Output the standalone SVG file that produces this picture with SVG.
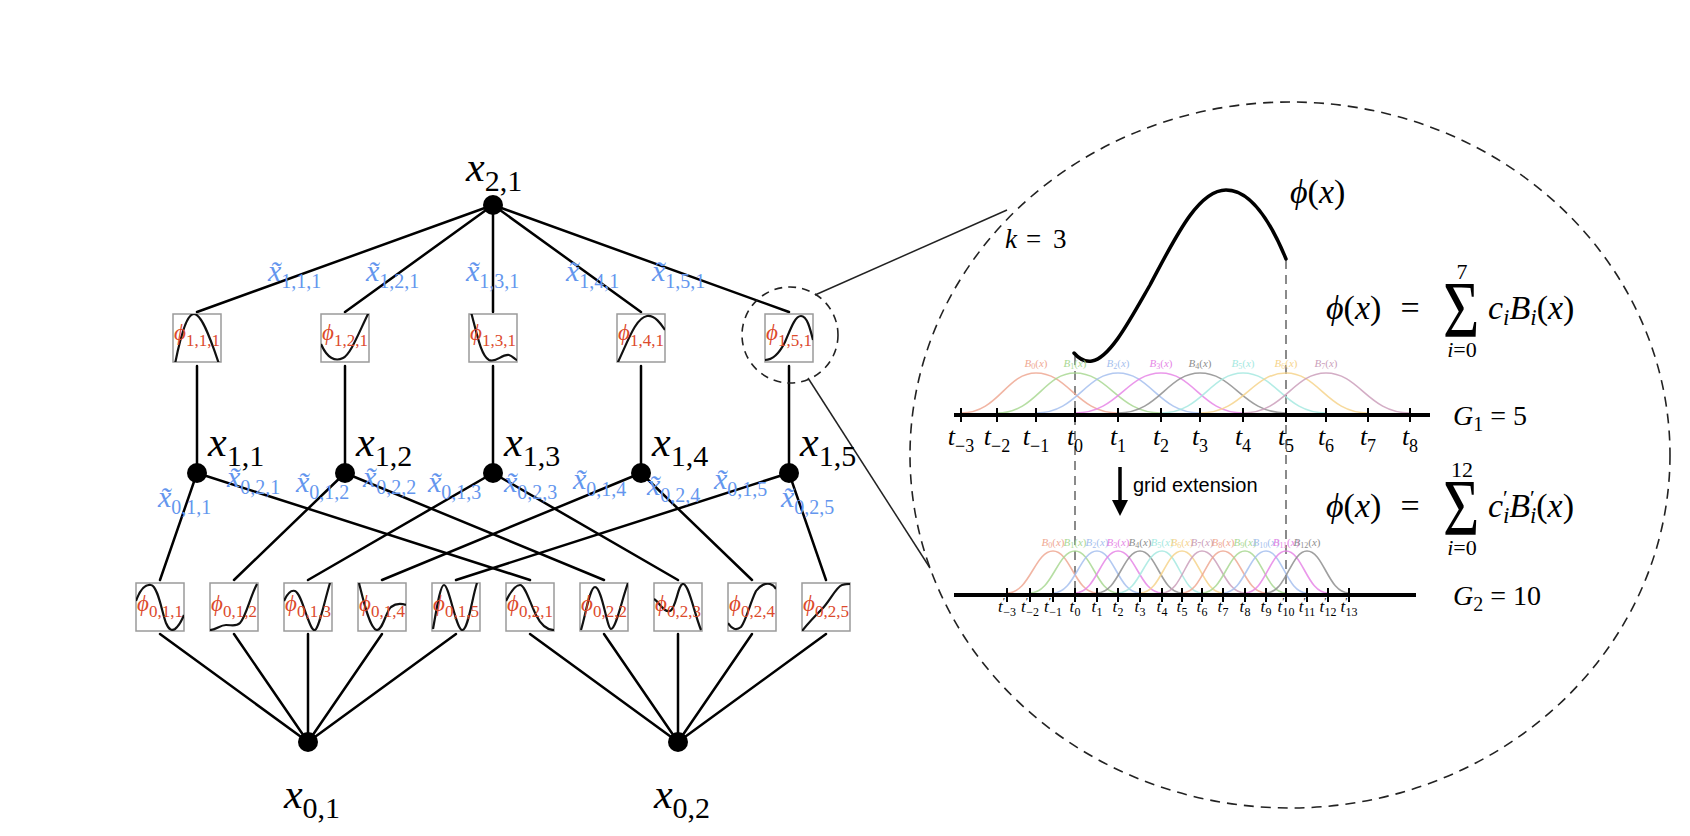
<svg xmlns="http://www.w3.org/2000/svg" width="1690" height="836" viewBox="0 0 1690 836">
<style>
.s{font-family:"Liberation Serif","DejaVu Serif",serif}
.sans{font-family:"Liberation Sans",Arial,sans-serif}
.it{font-style:italic}
.e{stroke:#000;stroke-width:2.5;fill:none;stroke-linecap:round}
.z{stroke:#222;stroke-width:1.5;fill:none}
.dc{stroke:#222;stroke-width:1.6;fill:none;stroke-dasharray:10 7}
.node{fill:#000}
.box{fill:#fff;stroke:#9a9a9a;stroke-width:1.5}
.fn{fill:none;stroke:#111;stroke-width:2.2}
.nl{font-size:42px;fill:#000}
.bl{font-size:30px;fill:#6496ee}
.pl{font-size:23px;fill:#dc4a2c}
.ax{stroke:#000;stroke-width:4}
.tk{stroke:#000;stroke-width:2}
.vd{stroke:#8a8a8a;stroke-width:2;stroke-dasharray:9 6}
.bt{font-size:11px;text-anchor:middle}
.c0{stroke:#efa893;fill:#efa893}.c1{stroke:#a9d893;fill:#a9d893}.c2{stroke:#a6bfee;fill:#a6bfee}.c3{stroke:#e686e6;fill:#e686e6}
.c4{stroke:#8e8e8e;fill:#8e8e8e}.c5{stroke:#a6e9e1;fill:#a6e9e1}.c6{stroke:#f6d38c;fill:#f6d38c}.c7{stroke:#cb9fbb;fill:#cb9fbb}
path.bs{fill:none;stroke-width:1.6;opacity:0.85}
text.bt{stroke:none}
</style>
<defs>
<clipPath id="bc"><rect x="0" y="0" width="48" height="48"/></clipPath>
</defs>

<g id="connectors">
<line class="e" x1="493" y1="205" x2="197" y2="312"/>
<line class="e" x1="493" y1="205" x2="345" y2="312"/>
<line class="e" x1="493" y1="205" x2="493" y2="312"/>
<line class="e" x1="493" y1="205" x2="641" y2="312"/>
<line class="e" x1="493" y1="205" x2="789" y2="312"/>
<line class="e" x1="197" y1="366" x2="197" y2="473"/>
<line class="e" x1="345" y1="366" x2="345" y2="473"/>
<line class="e" x1="493" y1="366" x2="493" y2="473"/>
<line class="e" x1="641" y1="366" x2="641" y2="473"/>
<line class="e" x1="789" y1="366" x2="789" y2="473"/>
<line class="e" x1="197" y1="473" x2="160" y2="580"/>
<line class="e" x1="197" y1="473" x2="530" y2="580"/>
<line class="e" x1="345" y1="473" x2="234" y2="580"/>
<line class="e" x1="345" y1="473" x2="604" y2="580"/>
<line class="e" x1="493" y1="473" x2="308" y2="580"/>
<line class="e" x1="493" y1="473" x2="678" y2="580"/>
<line class="e" x1="641" y1="473" x2="382" y2="580"/>
<line class="e" x1="641" y1="473" x2="752" y2="580"/>
<line class="e" x1="789" y1="473" x2="456" y2="580"/>
<line class="e" x1="789" y1="473" x2="826" y2="580"/>
<line class="e" x1="160" y1="634" x2="308" y2="742"/>
<line class="e" x1="234" y1="634" x2="308" y2="742"/>
<line class="e" x1="308" y1="634" x2="308" y2="742"/>
<line class="e" x1="382" y1="634" x2="308" y2="742"/>
<line class="e" x1="456" y1="634" x2="308" y2="742"/>
<line class="e" x1="530" y1="634" x2="678" y2="742"/>
<line class="e" x1="604" y1="634" x2="678" y2="742"/>
<line class="e" x1="678" y1="634" x2="678" y2="742"/>
<line class="e" x1="752" y1="634" x2="678" y2="742"/>
<line class="e" x1="826" y1="634" x2="678" y2="742"/>
<line class="z" x1="815" y1="295" x2="1007" y2="210"/>
<line class="z" x1="808" y1="378" x2="930" y2="568"/>
</g>

<g id="edge-labels" class="s">
<text class="bl" x="268" y="281"><tspan class="it">x̃</tspan><tspan font-size="20" dy="7">1,1,1</tspan></text>
<text class="bl" x="366" y="281"><tspan class="it">x̃</tspan><tspan font-size="20" dy="7">1,2,1</tspan></text>
<text class="bl" x="466" y="281"><tspan class="it">x̃</tspan><tspan font-size="20" dy="7">1,3,1</tspan></text>
<text class="bl" x="566" y="281"><tspan class="it">x̃</tspan><tspan font-size="20" dy="7">1,4,1</tspan></text>
<text class="bl" x="652" y="281"><tspan class="it">x̃</tspan><tspan font-size="20" dy="7">1,5,1</tspan></text>
<text class="bl" x="158" y="507"><tspan class="it">x̃</tspan><tspan font-size="20" dy="7">0,1,1</tspan></text>
<text class="bl" x="227" y="487"><tspan class="it">x̃</tspan><tspan font-size="20" dy="7">0,2,1</tspan></text>
<text class="bl" x="296" y="492"><tspan class="it">x̃</tspan><tspan font-size="20" dy="7">0,1,2</tspan></text>
<text class="bl" x="363" y="487"><tspan class="it">x̃</tspan><tspan font-size="20" dy="7">0,2,2</tspan></text>
<text class="bl" x="428" y="492"><tspan class="it">x̃</tspan><tspan font-size="20" dy="7">0,1,3</tspan></text>
<text class="bl" x="504" y="492"><tspan class="it">x̃</tspan><tspan font-size="20" dy="7">0,2,3</tspan></text>
<text class="bl" x="573" y="489"><tspan class="it">x̃</tspan><tspan font-size="20" dy="7">0,1,4</tspan></text>
<text class="bl" x="647" y="495"><tspan class="it">x̃</tspan><tspan font-size="20" dy="7">0,2,4</tspan></text>
<text class="bl" x="714" y="489"><tspan class="it">x̃</tspan><tspan font-size="20" dy="7">0,1,5</tspan></text>
<text class="bl" x="781" y="507"><tspan class="it">x̃</tspan><tspan font-size="20" dy="7">0,2,5</tspan></text>
</g>

<g id="x21" class="s">
<circle class="node" cx="493" cy="205" r="10"/>
<text class="nl" x="466" y="181"><tspan class="it">x</tspan><tspan font-size="30" dy="10">2,1</tspan></text>
</g>
<g id="x11" class="s"><circle class="node" cx="197" cy="473" r="10"/><text class="nl" x="208" y="456"><tspan class="it">x</tspan><tspan font-size="30" dy="10">1,1</tspan></text></g>
<g id="x12" class="s"><circle class="node" cx="345" cy="473" r="10"/><text class="nl" x="356" y="456"><tspan class="it">x</tspan><tspan font-size="30" dy="10">1,2</tspan></text></g>
<g id="x13" class="s"><circle class="node" cx="493" cy="473" r="10"/><text class="nl" x="504" y="456"><tspan class="it">x</tspan><tspan font-size="30" dy="10">1,3</tspan></text></g>
<g id="x14" class="s"><circle class="node" cx="641" cy="473" r="10"/><text class="nl" x="652" y="456"><tspan class="it">x</tspan><tspan font-size="30" dy="10">1,4</tspan></text></g>
<g id="x15" class="s"><circle class="node" cx="789" cy="473" r="10"/><text class="nl" x="800" y="456"><tspan class="it">x</tspan><tspan font-size="30" dy="10">1,5</tspan></text></g>
<g id="x01" class="s"><circle class="node" cx="308" cy="742" r="10"/><text class="nl" x="312" y="808" text-anchor="middle"><tspan class="it">x</tspan><tspan font-size="30" dy="10">0,1</tspan></text></g>
<g id="x02" class="s"><circle class="node" cx="678" cy="742" r="10"/><text class="nl" x="682" y="808" text-anchor="middle"><tspan class="it">x</tspan><tspan font-size="30" dy="10">0,2</tspan></text></g>

<g id="phi111" class="s" transform="translate(173,314)"><rect class="box" width="48" height="48"/><path class="fn" clip-path="url(#bc)" d="M2,50 C10,10 16,0 21,0 C28,0 36,20 46,50"/><text class="pl" x="1" y="26"><tspan class="it">ϕ</tspan><tspan font-size="17" dy="6">1,1,1</tspan></text></g>
<g id="phi121" class="s" transform="translate(321,314)"><rect class="box" width="48" height="48"/><path class="fn" clip-path="url(#bc)" d="M0,30 C6,44 14,48 22,44 C30,40 38,18 48,-2"/><text class="pl" x="1" y="26"><tspan class="it">ϕ</tspan><tspan font-size="17" dy="6">1,2,1</tspan></text></g>
<g id="phi131" class="s" transform="translate(469,314)"><rect class="box" width="48" height="48"/><path class="fn" clip-path="url(#bc)" d="M2,-2 C8,20 12,42 20,46 C28,49 32,40 40,41 C44,42 46,46 48,46"/><text class="pl" x="1" y="26"><tspan class="it">ϕ</tspan><tspan font-size="17" dy="6">1,3,1</tspan></text></g>
<g id="phi141" class="s" transform="translate(617,314)"><rect class="box" width="48" height="48"/><path class="fn" clip-path="url(#bc)" d="M0,50 C10,30 18,4 30,2 C38,1 44,10 48,16"/><text class="pl" x="1" y="26"><tspan class="it">ϕ</tspan><tspan font-size="17" dy="6">1,4,1</tspan></text></g>
<g id="phi151" class="s" transform="translate(765,314)"><rect class="box" width="48" height="48"/><path class="fn" clip-path="url(#bc)" d="M0,46 C8,46 14,40 20,28 C26,14 30,2 36,2 C42,2 45,14 48,26"/><text class="pl" x="1" y="26"><tspan class="it">ϕ</tspan><tspan font-size="17" dy="6">1,5,1</tspan></text></g>

<g id="phi011" class="s" transform="translate(136,583)"><rect class="box" width="48" height="48"/><path class="fn" clip-path="url(#bc)" d="M0,18 C5,4 10,1 15,2 C22,3 26,30 30,40 C33,47 36,48 39,46 C43,43 46,37 48,32"/><text class="pl" x="1" y="28"><tspan class="it">ϕ</tspan><tspan font-size="17" dy="6">0,1,1</tspan></text></g>
<g id="phi012" class="s" transform="translate(210,583)"><rect class="box" width="48" height="48"/><path class="fn" clip-path="url(#bc)" d="M0,47 C6,47 10,42 16,42 C22,42 26,44 30,40 C36,34 40,14 47,1"/><text class="pl" x="1" y="28"><tspan class="it">ϕ</tspan><tspan font-size="17" dy="6">0,1,2</tspan></text></g>
<g id="phi013" class="s" transform="translate(284,583)"><rect class="box" width="48" height="48"/><path class="fn" clip-path="url(#bc)" d="M0,18 C4,9 8,7 11,8 C16,10 20,26 24,36 C27,44 29,48 31,47 C35,45 40,20 46,0"/><text class="pl" x="1" y="28"><tspan class="it">ϕ</tspan><tspan font-size="17" dy="6">0,1,3</tspan></text></g>
<g id="phi014" class="s" transform="translate(358,583)"><rect class="box" width="48" height="48"/><path class="fn" clip-path="url(#bc)" d="M1,0 C5,16 12,47 19,47 C25,47 28,28 33,24 C37,21 42,20 48,22"/><text class="pl" x="1" y="28"><tspan class="it">ϕ</tspan><tspan font-size="17" dy="6">0,1,4</tspan></text></g>
<g id="phi015" class="s" transform="translate(432,583)"><rect class="box" width="48" height="48"/><path class="fn" clip-path="url(#bc)" d="M1,46 C4,30 8,2 12,2 C17,2 24,46 30,47 C36,48 40,15 45,0"/><text class="pl" x="1" y="28"><tspan class="it">ϕ</tspan><tspan font-size="17" dy="6">0,1,5</tspan></text></g>
<g id="phi021" class="s" transform="translate(506,583)"><rect class="box" width="48" height="48"/><path class="fn" clip-path="url(#bc)" d="M0,18 C5,8 10,2 14,2 C19,2 24,20 30,32 C35,42 40,47 48,47"/><text class="pl" x="1" y="28"><tspan class="it">ϕ</tspan><tspan font-size="17" dy="6">0,2,1</tspan></text></g>
<g id="phi022" class="s" transform="translate(580,583)"><rect class="box" width="48" height="48"/><path class="fn" clip-path="url(#bc)" d="M1,47 C6,30 10,4 15,4 C22,4 27,46 31,46 C36,46 42,16 48,0"/><text class="pl" x="1" y="28"><tspan class="it">ϕ</tspan><tspan font-size="17" dy="6">0,2,2</tspan></text></g>
<g id="phi023" class="s" transform="translate(654,583)"><rect class="box" width="48" height="48"/><path class="fn" clip-path="url(#bc)" d="M0,16 C6,20 10,30 16,28 C22,26 24,1 29,1 C35,1 40,30 47,47"/><text class="pl" x="1" y="28"><tspan class="it">ϕ</tspan><tspan font-size="17" dy="6">0,2,3</tspan></text></g>
<g id="phi024" class="s" transform="translate(728,583)"><rect class="box" width="48" height="48"/><path class="fn" clip-path="url(#bc)" d="M0,40 C4,46 8,48 13,44 C18,38 22,20 28,8 C32,2 38,0 42,1 C45,2 47,4 48,6"/><text class="pl" x="1" y="28"><tspan class="it">ϕ</tspan><tspan font-size="17" dy="6">0,2,4</tspan></text></g>
<g id="phi025" class="s" transform="translate(802,583)"><rect class="box" width="48" height="48"/><path class="fn" clip-path="url(#bc)" d="M0,48 C8,38 14,32 20,26 C28,18 34,4 40,2 C44,1 46,1 48,1"/><text class="pl" x="1" y="28"><tspan class="it">ϕ</tspan><tspan font-size="17" dy="6">0,2,5</tspan></text></g>

<g id="zoom-marks">
<circle class="dc" cx="790" cy="335" r="48" style="stroke-dasharray:8 6"/>
<ellipse class="dc" cx="1290" cy="455" rx="380" ry="353"/>
</g>

<g id="spline-panel" class="s">
<line class="vd" x1="1075" y1="356" x2="1075" y2="598"/>
<line class="vd" x1="1286" y1="260" x2="1286" y2="598"/>
<path d="M1074,353 C1080,360 1086,362 1092,361 C1110,358 1130,320 1150,285 C1175,238 1198,190 1226,190 C1250,190 1270,220 1286,259" fill="none" stroke="#000" stroke-width="3.5" stroke-linecap="round"/>
<text x="1290" y="203" font-size="34"><tspan class="it">ϕ</tspan>(<tspan class="it">x</tspan>)</text>
<text x="1005" y="248" font-size="27"><tspan class="it">k</tspan><tspan x="1026">=</tspan><tspan x="1053">3</tspan></text>

<g id="bsplines-G1">
<path class="bs c0" d="M961,413 C998.5,413 1006,373 1036,373 C1068.8,373 1077,413 1118,413"/>
<path class="bs c1" d="M997,413 C1036,413 1043.8,373 1075,373 C1109.4,373 1118,413 1161,413"/>
<path class="bs c2" d="M1036,413 C1077,413 1085.2,373 1118,373 C1150.8,373 1159,413 1200,413"/>
<path class="bs c3" d="M1075,413 C1118,413 1126.6,373 1161,373 C1193.8,373 1202,413 1243,413"/>
<path class="bs c4" d="M1118,413 C1159,413 1167.2,373 1200,373 C1234.4,373 1243,413 1286,413"/>
<path class="bs c5" d="M1161,413 C1202,413 1210.2,373 1243,373 C1276.2,373 1284.5,413 1326,413"/>
<path class="bs c6" d="M1200,413 C1243,413 1251.6,373 1286,373 C1318.8,373 1327,413 1368,413"/>
<path class="bs c7" d="M1243,413 C1284.5,413 1292.8,373 1326,373 C1359.6,373 1368,413 1410,413"/>
<text class="bt c0" x="1036" y="367"><tspan class="it">B</tspan><tspan font-size="8" dy="2">0</tspan><tspan dy="-2">(</tspan><tspan class="it">x</tspan>)</text>
<text class="bt c1" x="1075" y="367"><tspan class="it">B</tspan><tspan font-size="8" dy="2">1</tspan><tspan dy="-2">(</tspan><tspan class="it">x</tspan>)</text>
<text class="bt c2" x="1118" y="367"><tspan class="it">B</tspan><tspan font-size="8" dy="2">2</tspan><tspan dy="-2">(</tspan><tspan class="it">x</tspan>)</text>
<text class="bt c3" x="1161" y="367"><tspan class="it">B</tspan><tspan font-size="8" dy="2">3</tspan><tspan dy="-2">(</tspan><tspan class="it">x</tspan>)</text>
<text class="bt c4" x="1200" y="367"><tspan class="it">B</tspan><tspan font-size="8" dy="2">4</tspan><tspan dy="-2">(</tspan><tspan class="it">x</tspan>)</text>
<text class="bt c5" x="1243" y="367"><tspan class="it">B</tspan><tspan font-size="8" dy="2">5</tspan><tspan dy="-2">(</tspan><tspan class="it">x</tspan>)</text>
<text class="bt c6" x="1286" y="367"><tspan class="it">B</tspan><tspan font-size="8" dy="2">6</tspan><tspan dy="-2">(</tspan><tspan class="it">x</tspan>)</text>
<text class="bt c7" x="1326" y="367"><tspan class="it">B</tspan><tspan font-size="8" dy="2">7</tspan><tspan dy="-2">(</tspan><tspan class="it">x</tspan>)</text>
</g>
<line class="ax" x1="954" y1="415" x2="1430" y2="415"/>
<g id="ticks-G1">
<line class="tk" x1="961" y1="408" x2="961" y2="422"/><line class="tk" x1="997" y1="408" x2="997" y2="422"/><line class="tk" x1="1036" y1="408" x2="1036" y2="422"/><line class="tk" x1="1075" y1="408" x2="1075" y2="422"/><line class="tk" x1="1118" y1="408" x2="1118" y2="422"/><line class="tk" x1="1161" y1="408" x2="1161" y2="422"/><line class="tk" x1="1200" y1="408" x2="1200" y2="422"/><line class="tk" x1="1243" y1="408" x2="1243" y2="422"/><line class="tk" x1="1286" y1="408" x2="1286" y2="422"/><line class="tk" x1="1326" y1="408" x2="1326" y2="422"/><line class="tk" x1="1368" y1="408" x2="1368" y2="422"/><line class="tk" x1="1410" y1="408" x2="1410" y2="422"/>
</g>
<g id="tlabels-G1" font-size="26" text-anchor="middle">
<text x="961" y="445"><tspan class="it">t</tspan><tspan font-size="18" dy="7">−3</tspan></text>
<text x="997" y="445"><tspan class="it">t</tspan><tspan font-size="18" dy="7">−2</tspan></text>
<text x="1036" y="445"><tspan class="it">t</tspan><tspan font-size="18" dy="7">−1</tspan></text>
<text x="1075" y="445"><tspan class="it">t</tspan><tspan font-size="18" dy="7">0</tspan></text>
<text x="1118" y="445"><tspan class="it">t</tspan><tspan font-size="18" dy="7">1</tspan></text>
<text x="1161" y="445"><tspan class="it">t</tspan><tspan font-size="18" dy="7">2</tspan></text>
<text x="1200" y="445"><tspan class="it">t</tspan><tspan font-size="18" dy="7">3</tspan></text>
<text x="1243" y="445"><tspan class="it">t</tspan><tspan font-size="18" dy="7">4</tspan></text>
<text x="1286" y="445"><tspan class="it">t</tspan><tspan font-size="18" dy="7">5</tspan></text>
<text x="1326" y="445"><tspan class="it">t</tspan><tspan font-size="18" dy="7">6</tspan></text>
<text x="1368" y="445"><tspan class="it">t</tspan><tspan font-size="18" dy="7">7</tspan></text>
<text x="1410" y="445"><tspan class="it">t</tspan><tspan font-size="18" dy="7">8</tspan></text>
</g>
<text x="1453" y="425" font-size="28"><tspan class="it">G</tspan><tspan font-size="20" dy="6">1</tspan><tspan dy="-6"> = 5</tspan></text>

<g id="formula1">
<text x="1326" y="319" font-size="34"><tspan class="it">ϕ</tspan>(<tspan class="it">x</tspan>)</text>
<text x="1410" y="319" font-size="34" text-anchor="middle">=</text>
<text transform="translate(1443,337) scale(0.78,1)" font-size="80">Σ</text>
<text x="1462" y="279" font-size="22" text-anchor="middle">7</text>
<text x="1462" y="357" font-size="22" text-anchor="middle"><tspan class="it">i</tspan>=0</text>
<text x="1488" y="319" font-size="34"><tspan class="it">c</tspan><tspan class="it" font-size="23" dy="6">i</tspan><tspan class="it" dy="-6">B</tspan><tspan class="it" font-size="23" dy="6">i</tspan><tspan dy="-6">(</tspan><tspan class="it">x</tspan>)</text>
</g>

<g id="grid-extension">
<line x1="1120" y1="467" x2="1120" y2="503" stroke="#000" stroke-width="3.5"/>
<polygon points="1112,500 1128,500 1120,516" fill="#000"/>
<text class="sans" x="1133" y="492" font-size="20">grid extension</text>
</g>

<g id="formula2">
<text x="1326" y="517" font-size="34"><tspan class="it">ϕ</tspan>(<tspan class="it">x</tspan>)</text>
<text x="1410" y="517" font-size="34" text-anchor="middle">=</text>
<text transform="translate(1443,535) scale(0.78,1)" font-size="80">Σ</text>
<text x="1462" y="477" font-size="22" text-anchor="middle">12</text>
<text x="1462" y="555" font-size="22" text-anchor="middle"><tspan class="it">i</tspan>=0</text>
<text x="1488" y="517" font-size="34"><tspan class="it">c</tspan><tspan font-size="22" dy="-12">′</tspan><tspan class="it" font-size="23" dx="-5" dy="18">i</tspan><tspan class="it" dy="-6">B</tspan><tspan font-size="22" dy="-12">′</tspan><tspan class="it" font-size="23" dx="-5" dy="18">i</tspan><tspan dy="-6">(</tspan><tspan class="it">x</tspan>)</text>
</g>

<g id="bsplines-G2">
<path class="bs c0" d="M1007,593 C1030,593 1034.6,551 1053,551 C1070.6,551 1075,593 1097,593"/>
<path class="bs c1" d="M1030,593 C1052.5,593 1057,551 1075,551 C1092.2,551 1096.5,593 1118,593"/>
<path class="bs c2" d="M1053,593 C1075,593 1079.4,551 1097,551 C1114.2,551 1118.5,593 1140,593"/>
<path class="bs c3" d="M1075,593 C1096.5,593 1100.8,551 1118,551 C1135.6,551 1140,593 1162,593"/>
<path class="bs c4" d="M1097,593 C1118.5,593 1122.8,551 1140,551 C1156.8,551 1161,593 1182,593"/>
<path class="bs c5" d="M1118,593 C1140,593 1144.4,551 1162,551 C1178,551 1182,593 1202,593"/>
<path class="bs c6" d="M1140,593 C1161,593 1165.2,551 1182,551 C1198.4,551 1202.5,593 1223,593"/>
<path class="bs c7" d="M1162,593 C1182,593 1186,551 1202,551 C1219.2,551 1223.5,593 1245,593"/>
<path class="bs c0" d="M1182,593 C1202.5,593 1206.6,551 1223,551 C1240.2,551 1244.5,593 1266,593"/>
<path class="bs c1" d="M1202,593 C1223.5,593 1227.8,551 1245,551 C1261.4,551 1265.5,593 1286,593"/>
<path class="bs c2" d="M1223,593 C1244.5,593 1248.8,551 1266,551 C1282.4,551 1286.5,593 1307,593"/>
<path class="bs c3" d="M1245,593 C1265.5,593 1269.6,551 1286,551 C1302.8,551 1307,593 1328,593"/>
<path class="bs c4" d="M1266,593 C1286.5,593 1290.6,551 1307,551 C1323.8,551 1328,593 1349,593"/>
<text class="bt c0" x="1053" y="546"><tspan class="it">B</tspan><tspan font-size="8" dy="2">0</tspan><tspan dy="-2">(</tspan><tspan class="it">x</tspan>)</text>
<text class="bt c1" x="1075" y="546"><tspan class="it">B</tspan><tspan font-size="8" dy="2">1</tspan><tspan dy="-2">(</tspan><tspan class="it">x</tspan>)</text>
<text class="bt c2" x="1097" y="546"><tspan class="it">B</tspan><tspan font-size="8" dy="2">2</tspan><tspan dy="-2">(</tspan><tspan class="it">x</tspan>)</text>
<text class="bt c3" x="1118" y="546"><tspan class="it">B</tspan><tspan font-size="8" dy="2">3</tspan><tspan dy="-2">(</tspan><tspan class="it">x</tspan>)</text>
<text class="bt c4" x="1140" y="546"><tspan class="it">B</tspan><tspan font-size="8" dy="2">4</tspan><tspan dy="-2">(</tspan><tspan class="it">x</tspan>)</text>
<text class="bt c5" x="1162" y="546"><tspan class="it">B</tspan><tspan font-size="8" dy="2">5</tspan><tspan dy="-2">(</tspan><tspan class="it">x</tspan>)</text>
<text class="bt c6" x="1182" y="546"><tspan class="it">B</tspan><tspan font-size="8" dy="2">6</tspan><tspan dy="-2">(</tspan><tspan class="it">x</tspan>)</text>
<text class="bt c7" x="1202" y="546"><tspan class="it">B</tspan><tspan font-size="8" dy="2">7</tspan><tspan dy="-2">(</tspan><tspan class="it">x</tspan>)</text>
<text class="bt c0" x="1223" y="546"><tspan class="it">B</tspan><tspan font-size="8" dy="2">8</tspan><tspan dy="-2">(</tspan><tspan class="it">x</tspan>)</text>
<text class="bt c1" x="1245" y="546"><tspan class="it">B</tspan><tspan font-size="8" dy="2">9</tspan><tspan dy="-2">(</tspan><tspan class="it">x</tspan>)</text>
<text class="bt c2" x="1266" y="546"><tspan class="it">B</tspan><tspan font-size="8" dy="2">10</tspan><tspan dy="-2">(</tspan><tspan class="it">x</tspan>)</text>
<text class="bt c3" x="1286" y="546"><tspan class="it">B</tspan><tspan font-size="8" dy="2">11</tspan><tspan dy="-2">(</tspan><tspan class="it">x</tspan>)</text>
<text class="bt c4" x="1307" y="546"><tspan class="it">B</tspan><tspan font-size="8" dy="2">12</tspan><tspan dy="-2">(</tspan><tspan class="it">x</tspan>)</text>
</g>
<line class="ax" x1="954" y1="595" x2="1416" y2="595"/>
<g id="ticks-G2">
<line class="tk" x1="1007" y1="588" x2="1007" y2="602"/><line class="tk" x1="1030" y1="588" x2="1030" y2="602"/><line class="tk" x1="1053" y1="588" x2="1053" y2="602"/><line class="tk" x1="1075" y1="588" x2="1075" y2="602"/><line class="tk" x1="1097" y1="588" x2="1097" y2="602"/><line class="tk" x1="1118" y1="588" x2="1118" y2="602"/><line class="tk" x1="1140" y1="588" x2="1140" y2="602"/><line class="tk" x1="1162" y1="588" x2="1162" y2="602"/><line class="tk" x1="1182" y1="588" x2="1182" y2="602"/><line class="tk" x1="1202" y1="588" x2="1202" y2="602"/><line class="tk" x1="1223" y1="588" x2="1223" y2="602"/><line class="tk" x1="1245" y1="588" x2="1245" y2="602"/><line class="tk" x1="1266" y1="588" x2="1266" y2="602"/><line class="tk" x1="1286" y1="588" x2="1286" y2="602"/><line class="tk" x1="1307" y1="588" x2="1307" y2="602"/><line class="tk" x1="1328" y1="588" x2="1328" y2="602"/><line class="tk" x1="1349" y1="588" x2="1349" y2="602"/>
</g>
<g id="tlabels-G2" font-size="17" text-anchor="middle">
<text x="1007" y="612"><tspan class="it">t</tspan><tspan font-size="11" dy="-7">′</tspan><tspan font-size="12" dx="-2" dy="11">−3</tspan></text>
<text x="1030" y="612"><tspan class="it">t</tspan><tspan font-size="11" dy="-7">′</tspan><tspan font-size="12" dx="-2" dy="11">−2</tspan></text>
<text x="1053" y="612"><tspan class="it">t</tspan><tspan font-size="11" dy="-7">′</tspan><tspan font-size="12" dx="-2" dy="11">−1</tspan></text>
<text x="1075" y="612"><tspan class="it">t</tspan><tspan font-size="11" dy="-7">′</tspan><tspan font-size="12" dx="-2" dy="11">0</tspan></text>
<text x="1097" y="612"><tspan class="it">t</tspan><tspan font-size="11" dy="-7">′</tspan><tspan font-size="12" dx="-2" dy="11">1</tspan></text>
<text x="1118" y="612"><tspan class="it">t</tspan><tspan font-size="11" dy="-7">′</tspan><tspan font-size="12" dx="-2" dy="11">2</tspan></text>
<text x="1140" y="612"><tspan class="it">t</tspan><tspan font-size="11" dy="-7">′</tspan><tspan font-size="12" dx="-2" dy="11">3</tspan></text>
<text x="1162" y="612"><tspan class="it">t</tspan><tspan font-size="11" dy="-7">′</tspan><tspan font-size="12" dx="-2" dy="11">4</tspan></text>
<text x="1182" y="612"><tspan class="it">t</tspan><tspan font-size="11" dy="-7">′</tspan><tspan font-size="12" dx="-2" dy="11">5</tspan></text>
<text x="1202" y="612"><tspan class="it">t</tspan><tspan font-size="11" dy="-7">′</tspan><tspan font-size="12" dx="-2" dy="11">6</tspan></text>
<text x="1223" y="612"><tspan class="it">t</tspan><tspan font-size="11" dy="-7">′</tspan><tspan font-size="12" dx="-2" dy="11">7</tspan></text>
<text x="1245" y="612"><tspan class="it">t</tspan><tspan font-size="11" dy="-7">′</tspan><tspan font-size="12" dx="-2" dy="11">8</tspan></text>
<text x="1266" y="612"><tspan class="it">t</tspan><tspan font-size="11" dy="-7">′</tspan><tspan font-size="12" dx="-2" dy="11">9</tspan></text>
<text x="1286" y="612"><tspan class="it">t</tspan><tspan font-size="11" dy="-7">′</tspan><tspan font-size="12" dx="-2" dy="11">10</tspan></text>
<text x="1307" y="612"><tspan class="it">t</tspan><tspan font-size="11" dy="-7">′</tspan><tspan font-size="12" dx="-2" dy="11">11</tspan></text>
<text x="1328" y="612"><tspan class="it">t</tspan><tspan font-size="11" dy="-7">′</tspan><tspan font-size="12" dx="-2" dy="11">12</tspan></text>
<text x="1349" y="612"><tspan class="it">t</tspan><tspan font-size="11" dy="-7">′</tspan><tspan font-size="12" dx="-2" dy="11">13</tspan></text>
</g>
<text x="1453" y="605" font-size="28"><tspan class="it">G</tspan><tspan font-size="20" dy="6">2</tspan><tspan dy="-6"> = 10</tspan></text>
</g>
</svg>
